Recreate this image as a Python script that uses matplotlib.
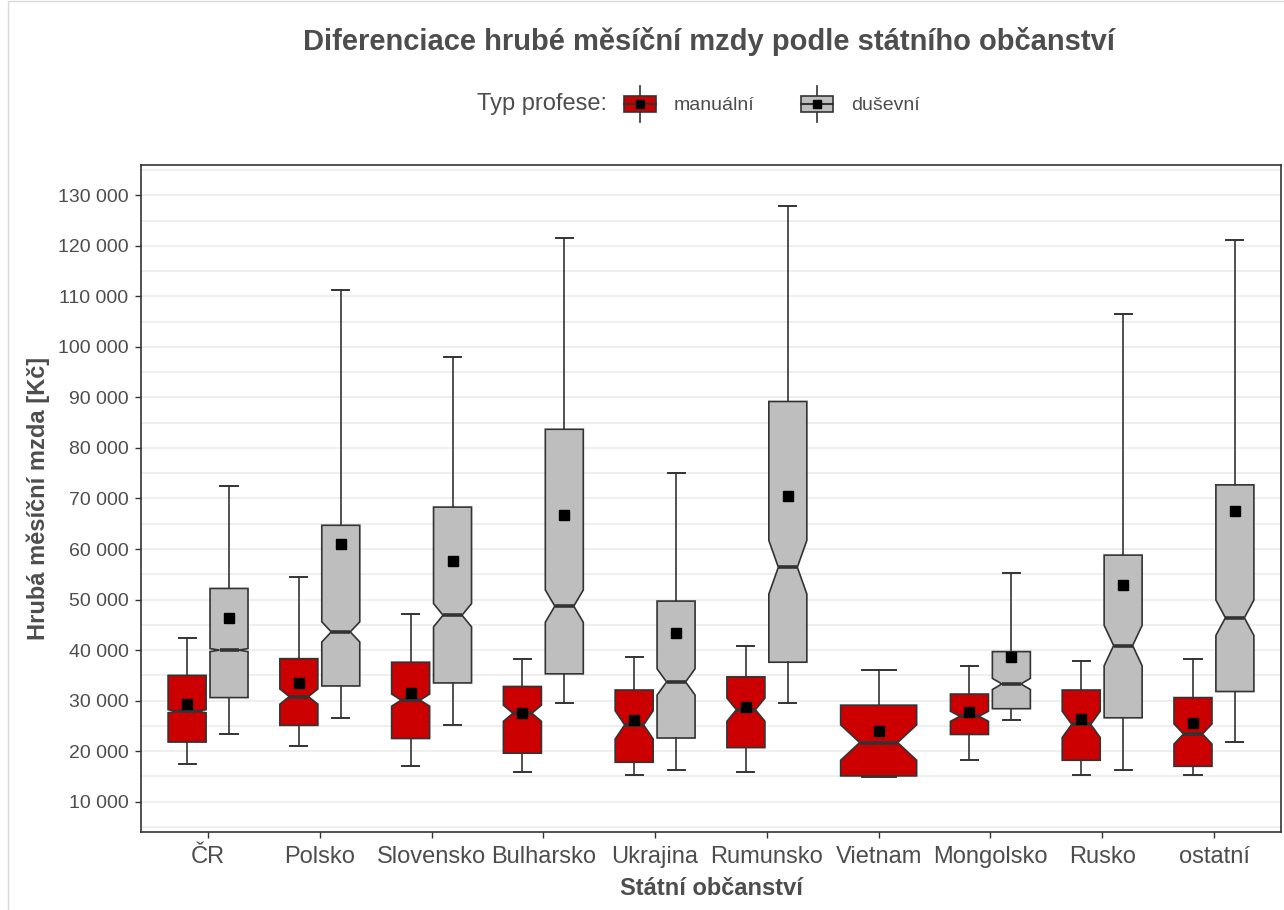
import numpy as np
import matplotlib
matplotlib.use('Agg')
import matplotlib.pyplot as plt
from matplotlib.legend_handler import HandlerBase
from matplotlib.patches import Rectangle
from matplotlib.lines import Line2D
from matplotlib.ticker import FuncFormatter, MultipleLocator

plt.rcParams['font.family'] = ['Liberation Sans', 'DejaVu Sans']

##### data (hrubá měsíční mzda, Kč)

countries = ['ČR', 'Polsko', 'Slovensko', 'Bulharsko', 'Ukrajina',
             'Rumunsko', 'Vietnam', 'Mongolsko', 'Rusko', 'ostatní']
groups = ['manuální', 'duševní']
nan = np.nan

man_whislo = [17400, 21000, 17000, 15900, 15200, 15900, 14900, 18200, 15200, 15200]
man_q1 = [21800, 25100, 22500, 19600, 17800, 20700, 15100, 23300, 18200, 17000]
man_med = [27900, 30800, 30100, 27500, 25200, 28200, 21700, 26900, 25300, 23400]
man_q3 = [35000, 38300, 37600, 32800, 32100, 34700, 29100, 31300, 32100, 30600]
man_whishi = [42400, 54400, 47100, 38300, 38700, 40800, 36000, 36800, 37900, 38300]
man_mean = [29400, 33500, 31600, 27600, 26100, 28800, 24000, 27700, 26400, 25600]
man_notch = [300, 1500, 1200, 1600, 2800, 2300, 3500, 1000, 2600, 2000]

dus_whislo = [23300, 26500, 25100, 29500, 16300, 29500, nan, 26200, 16300, 21800]
dus_q1 = [30600, 32900, 33500, 35300, 22600, 37600, nan, 28400, 26600, 31800]
dus_med = [40000, 43600, 46900, 48700, 33700, 56400, nan, 33300, 40900, 46400]
dus_q3 = [52200, 64700, 68300, 83700, 49700, 89200, nan, 39700, 58800, 72700]
dus_whishi = [72400, 111200, 98100, 121500, 75000, 127800, nan, 55200, 106500, 121200]
dus_mean = [46400, 61000, 57700, 66800, 43400, 70400, nan, 38700, 52900, 67500]
dus_notch = [300, 2000, 2300, 3200, 2600, 5300, nan, 1100, 4000, 3500]

y_ticks = list(range(10000, 130001, 10000))

##### style

colors = {'manuální': '#CC0000', 'duševní': '#BEBEBE'}
edge = '#333333'
text_col = '#4D4D4D'
dodge = 0.1875
box_w = 0.34


def make_stats(whislo, q1, med, q3, whishi, mean, notch):
    return dict(whislo=whislo, q1=q1, med=med, q3=q3, whishi=whishi,
                mean=mean, cilo=med - notch, cihi=med + notch, fliers=[])


series = {
    'manuální': (man_whislo, man_q1, man_med, man_q3, man_whishi, man_mean, man_notch),
    'duševní': (dus_whislo, dus_q1, dus_med, dus_q3, dus_whishi, dus_mean, dus_notch),
}

fig = plt.figure(figsize=(12.84, 9.1), dpi=100)
ax = fig.add_axes([141/1284, 1 - 832/910, (1281 - 141)/1284, (832 - 165)/910])

for gi, g in enumerate(groups):
    cols = series[g]
    stats, pos, widths = [], [], []
    for i in range(len(countries)):
        vals = [c[i] for c in cols]
        if np.isnan(vals[2]):
            continue
        # single box takes the full dodge width
        other = series[groups[1 - gi]][2][i]
        if np.isnan(other):
            pos.append(i + 1)
            widths.append(2 * box_w)
        else:
            pos.append(i + 1 + (-dodge if gi == 0 else dodge))
            widths.append(box_w)
        stats.append(make_stats(*vals))
    ax.bxp(stats, positions=pos, widths=widths, patch_artist=True,
           shownotches=True, showmeans=True, showfliers=False,
           capwidths=[w * 0.45 for w in widths],
           boxprops=dict(facecolor=colors[g], edgecolor=edge, linewidth=1.2),
           medianprops=dict(color=edge, linewidth=2.6, solid_capstyle='butt'),
           whiskerprops=dict(color=edge, linewidth=1.2),
           capprops=dict(color=edge, linewidth=1.4),
           meanprops=dict(marker='s', markerfacecolor='black',
                          markeredgecolor='black', markersize=6.5),
           manage_ticks=False)

ax.set_xlim(0.4, len(countries) + 0.6)
ax.set_ylim(4000, 136000)
ax.set_xticks(range(1, len(countries) + 1))
ax.set_xticklabels(countries)
ax.set_yticks(y_ticks)
ax.yaxis.set_major_formatter(FuncFormatter(lambda v, p: f'{int(v):,}'.replace(',', ' ')))
ax.yaxis.set_minor_locator(MultipleLocator(5000))
ax.grid(axis='y', which='both', color='#EBEBEB', linewidth=1.1)
ax.set_axisbelow(True)
ax.tick_params(which='minor', left=False)
ax.tick_params(which='major', direction='out', length=4, width=1, color=edge)
ax.tick_params(axis='y', labelsize=14, labelcolor=text_col, pad=5)
ax.tick_params(axis='x', labelsize=17, labelcolor=text_col, pad=6)
for s in ax.spines.values():
    s.set_color(edge)
    s.set_linewidth(1.2)

ax.set_xlabel('Státní občanství', fontsize=17, fontweight='bold', color=text_col)
ax.xaxis.set_label_coords(0.5, -(877 - 832) / 667)
ax.set_ylabel('Hrubá měsíční mzda [Kč]', fontsize=17, fontweight='bold', color=text_col)
ax.yaxis.set_label_coords(-(141 - 50) / 1140, 0.5)

fig.text(709/1284, 1 - 42/910, 'Diferenciace hrubé měsíční mzdy podle státního občanství',
         ha='center', va='center', fontsize=21, fontweight='bold', color=text_col)

##### legend


class BoxKey(HandlerBase):
    def create_artists(self, legend, orig_handle, xdescent, ydescent, width, height, fontsize, trans):
        x0, y0 = -xdescent, -ydescent
        cx, cy = x0 + width / 2, y0 + height / 2
        whisk = Line2D([cx, cx], [y0 - 0.15 * height, y0 + 1.15 * height], color=edge, lw=1.2)
        box = Rectangle((x0, y0 + 0.2 * height), width, 0.6 * height,
                        facecolor=orig_handle.get_facecolor(), edgecolor=edge, lw=1.2)
        med = Line2D([x0, x0 + width], [cy, cy], color=edge, lw=1.5)
        mean = Line2D([cx], [cy], marker='s', color='black', markersize=6, lw=0)
        out = [whisk, box, med, mean]
        for a in out:
            a.set_transform(trans)
        return out


handles = [Rectangle((0, 0), 1, 1, facecolor=colors[g]) for g in groups]
fig.legend(handles, groups, loc='center', bbox_to_anchor=(772/1284, 1 - 104/910),
           ncol=2, frameon=False, fontsize=14, handlelength=1.65, handleheight=1.8,
           handletextpad=0.9, columnspacing=2.4, labelcolor=text_col,
           handler_map={Rectangle: BoxKey()})
fig.text(607/1284, 1 - 104/910, 'Typ profese:', ha='right', va='center',
         fontsize=17, color=text_col)

# light outer frame
fig.patches.append(Rectangle((8/1284, -0.05), 1.2, 1.05 - 1/910, transform=fig.transFigure,
                             fill=False, edgecolor='#D9D9D9', linewidth=1))

plt.savefig('out.png', dpi=100)
